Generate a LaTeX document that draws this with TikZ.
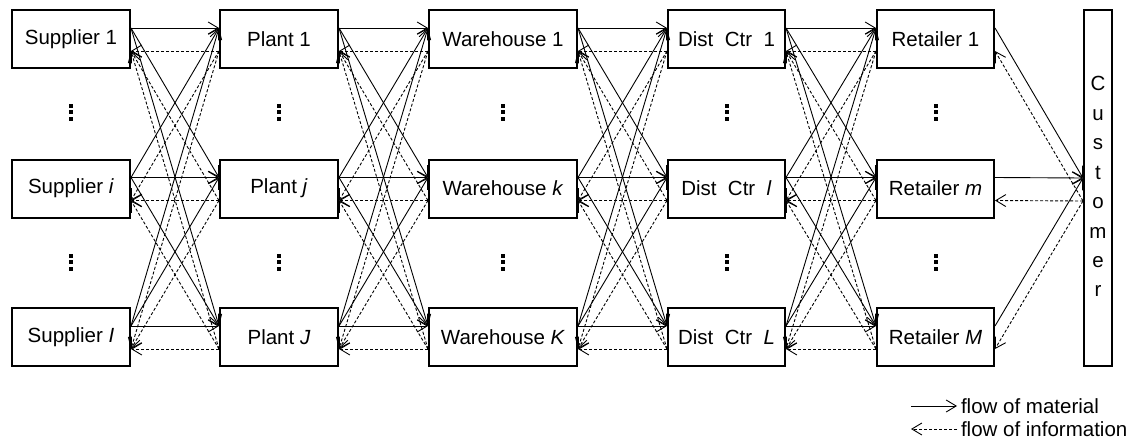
\documentclass[tikz,border=0pt]{standalone}
\usepackage{fontspec}
\setmainfont{Liberation Sans}
\usetikzlibrary{arrows.meta,calc}
\begin{document}
\begin{tikzpicture}[x=1pt,y=-1pt,
  lbl/.style={font=\fontsize{20.5}{24}\selectfont},
  box/.style={draw, line width=2pt, minimum height=58pt, inner sep=0pt, lbl},
  mat/.style={line width=0.9pt, -{Straight Barb[length=10pt,width=12pt,line width=0.9pt]}},
  inf/.style={line width=0.9pt, dash pattern=on 3pt off 2pt, -{Straight Barb[length=10pt,width=12pt,line width=0.9pt]}},
  letter/.style={anchor=base, inner sep=0pt, lbl},
  legtext/.style={anchor=west, inner sep=0pt, outer sep=4pt, lbl}]
\useasboundingbox (0,0) rectangle (1132,441);
% suppliers
\node[box, minimum width=118pt] (s1) at (71,39) {Supplier 1};
\node[box, minimum width=118pt] (s2) at (71,188.5) {Supplier \textit{i}};
\node[box, minimum width=118pt] (s3) at (71,337) {Supplier \textit{I}};
% plants
\node[box, minimum width=118pt] (p1) at (279,39) {Plant 1};
\node[box, minimum width=118pt] (p2) at (279,188.5) {Plant \textit{j}};
\node[box, minimum width=118pt] (p3) at (279,337) {Plant \textit{J}};
% warehouses
\node[box, minimum width=148pt] (w1) at (503,39) {Warehouse 1};
\node[box, minimum width=148pt] (w2) at (503,188.5) {Warehouse \textit{k}};
\node[box, minimum width=148pt] (w3) at (503,337) {Warehouse \textit{K}};
% distribution centres
\node[box, minimum width=117pt] (d1) at (726.5,39) {Dist\ \ Ctr\ \ 1};
\node[box, minimum width=117pt] (d2) at (726.5,188.5) {Dist\ \ Ctr\ \ \textit{l}};
\node[box, minimum width=117pt] (d3) at (726.5,337) {Dist\ \ Ctr\ \ \textit{L}};
% retailers
\node[box, minimum width=117pt] (r1) at (935.5,39) {Retailer 1};
\node[box, minimum width=117pt] (r2) at (935.5,188.5) {Retailer \textit{m}};
\node[box, minimum width=117pt] (r3) at (935.5,337) {Retailer \textit{M}};
% customer
\node[draw, line width=2pt, minimum width=28pt, minimum height=356pt, inner sep=0pt] (cust) at (1098,188) {};
\foreach \c [count=\k from 0] in {C,u,s,t,o,m,e,r}
  \node[letter] (cl\k) at (1098,91+29.4*\k) {\c};
% vertical dots
\foreach \x in {71,279,503,726.5,935.5}
  \foreach \y in {112.5,262}
    \foreach \d in {-6.5,0,6.5}
      \fill (\x-2,\y+\d-2) rectangle ++(4,4);
% connectors between stages
\foreach \a/\b in {s/p,p/w,w/d,d/r}{
  \foreach \i in {1,2,3}{
    \foreach \j in {1,2,3}{
      \draw[mat] ($(\a\i.east)+(0,-11)$) -- ($(\b\j.west)+(0,-11)$);
      \draw[inf] ($(\b\j.west)+(0,12)$) -- ($(\a\i.east)+(0,12)$);
    }
  }
}
% retailers to customer
\foreach \i in {1,2,3}{
  \draw[mat] ($(r\i.east)+(0,-11)$) -- ($(cust.west)+(0,-10)$);
  \draw[inf] ($(cust.west)+(0,13)$) -- ($(r\i.east)+(0,12)$);
}
% legend
\node[legtext] (legm) at (957,406) {flow of material};
\node[legtext] (legi) at (957,429) {flow of information};
\coordinate (legma) at ($(legm.west)+(-46,0)$);
\coordinate (legia) at ($(legi.west)+(-46,0)$);
\draw[mat] (legma) -- (legm.west);
\draw[inf] (legi.west) -- (legia);
\end{tikzpicture}
\end{document}
